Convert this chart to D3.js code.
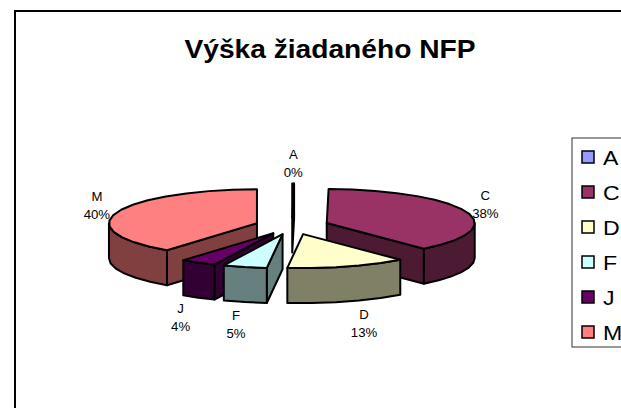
<!DOCTYPE html>
<html lang="sk">

<head>
  <meta charset="UTF-8">
  <title>Výška žiadaného NFP</title>
  <script src="https://d3js.org/d3.v7.min.js"></script>
  <style>
    html, body { margin: 0; padding: 0; background: #fff; overflow: hidden; }
    svg { display: block; font-family: "Liberation Sans", Arial, sans-serif; }
  </style>
</head>

<body>
  <script>
    const title = 'Výška žiadaného NFP';
    const categories = ['A', 'C', 'D', 'F', 'J', 'M'];
    const values = [0.2, 38.4, 13.1, 4.8, 3.9, 39.6];
    const colors = ['#9999FF', '#993366', '#FFFFCC', '#CCFFFF', '#660066', '#FF8080'];

    const w = 621;
    const h = 408;

    // pie geometry: tilted ellipse + extruded side
    const cx = 292, cy = 226;
    const rx = 148, ry = 34;
    const depth = 35;
    const explode = 0.25;

    // the original picture is stretched sideways, text included
    const stretch = 1.1;

    const color = d3.scaleOrdinal().domain(categories).range(colors);
    const legendY = d3.scalePoint().domain(categories).range([157, 332]);

    const svg = d3.select('body')
      .append('svg')
      .attr('width', w)
      .attr('height', h);

    svg.append('rect')
      .attr('width', w)
      .attr('height', h)
      .attr('fill', '#fff');

    // outer frame runs off the right and bottom edges
    svg.append('rect')
      .attr('x', 15)
      .attr('y', 11)
      .attr('width', w + 20)
      .attr('height', h + 20)
      .attr('fill', 'none')
      .attr('stroke', '#000')
      .attr('stroke-width', 2);

    svg.append('text')
      .text(title)
      .attr('x', 330)
      .attr('y', 58)
      .attr('text-anchor', 'middle')
      .attr('font-weight', 'bold')
      .attr('font-size', 25)
      .attr('textLength', 291)
      .attr('lengthAdjust', 'spacingAndGlyphs');

    const pie = d3.pie().sort(null).value((d, i) => values[i]);
    const slices = pie(categories);

    const shade = c => {
      const q = d3.rgb(c);
      return d3.rgb(q.r / 2, q.g / 2, q.b / 2).formatHex();
    };

    const line = d3.line();

    // angle is clockwise from 12 o'clock
    const centerOf = d => {
      const mid = (d.startAngle + d.endAngle) / 2;
      return [cx + Math.sin(mid) * rx * explode, cy - Math.cos(mid) * ry * explode];
    };
    const rim = (c, a, dz) => [c[0] + Math.sin(a) * rx, c[1] - Math.cos(a) * ry + dz];

    const arcPoints = (c, a0, a1, dz) => {
      const n = Math.max(1, Math.ceil((a1 - a0) / 0.17));
      return d3.range(n + 1).map(i => rim(c, a0 + (a1 - a0) * i / n, dz));
    };

    const distance = d => Math.abs((d.startAngle + d.endAngle) / 2 - Math.PI);
    const ordered = slices.slice().sort((a, b) => d3.descending(distance(a), distance(b)));

    const pieces = svg.selectAll('g.slice')
      .data(ordered)
      .enter()
      .append('g')
      .attr('class', 'slice')
      .attr('stroke', '#000')
      .attr('stroke-width', 2)
      .attr('stroke-linejoin', 'round');

    pieces.each(function (d) {
      const g = d3.select(this);
      const c = centerOf(d);
      const a0 = d.startAngle, a1 = d.endAngle;
      const fill = color(d.data);
      const wall = shade(fill);

      // radial walls facing the viewer
      [[a0, Math.sin(a0) < -1e-6], [a1, Math.sin(a1) > 1e-6]].forEach(([a, visible]) => {
        if (!visible) return;
        const p = rim(c, a, 0);
        g.append('path')
          .attr('fill', wall)
          .attr('d', line([c, p, [p[0], p[1] + depth], [c[0], c[1] + depth]]) + 'Z');
      });

      // curved wall, only the front half of the rim
      const f0 = Math.max(a0, Math.PI / 2), f1 = Math.min(a1, Math.PI * 1.5);
      if (f1 > f0) {
        const top = arcPoints(c, f0, f1, 0);
        const bottom = arcPoints(c, f0, f1, depth).reverse();
        g.append('path')
          .attr('fill', wall)
          .attr('d', line(top.concat(bottom)) + 'Z');
      }

      g.append('path')
        .attr('fill', fill)
        .attr('d', line([c].concat(arcPoints(c, a0, a1, 0))) + 'Z');
    });

    // data labels, front ones sit below the wall and further out
    const labelRy = 62;
    const labelNudge = { D: 6 };
    const labels = svg.selectAll('g.label')
      .data(slices)
      .enter()
      .append('g')
      .attr('class', 'label')
      .attr('text-anchor', 'middle')
      .attr('font-size', 12)
      .attr('transform', d => {
        const mid = (d.startAngle + d.endAngle) / 2;
        const isFront = Math.cos(mid) < 0;
        const labelRx = isFront ? 220 : 206;
        const x = cx + Math.sin(mid) * labelRx + (labelNudge[d.data] || 0);
        const y = cy - Math.cos(mid) * labelRy + (isFront ? depth + 4 : 0);
        return `translate(${x},${y}) scale(${stretch},1)`;
      });

    labels.append('text')
      .text(d => d.data)
      .attr('y', -5);

    labels.append('text')
      .text((d, i) => d3.format('.0f')(values[i]) + '%')
      .attr('y', 13);

    // legend, cut off by the window on the right
    svg.append('rect')
      .attr('x', 572)
      .attr('y', 138)
      .attr('width', 80)
      .attr('height', 209)
      .attr('fill', '#fff')
      .attr('stroke', '#333')
      .attr('stroke-width', 1);

    const legend = svg.selectAll('g.legend')
      .data(categories)
      .enter()
      .append('g')
      .attr('class', 'legend')
      .attr('transform', d => `translate(582,${legendY(d)})`);

    legend.append('rect')
      .attr('y', -6)
      .attr('width', 12)
      .attr('height', 12)
      .attr('fill', d => color(d))
      .attr('stroke', '#000')
      .attr('stroke-width', 1.5);

    legend.append('text')
      .text(d => d)
      .attr('transform', `translate(21,8) scale(${stretch},1)`)
      .attr('font-size', 21);
  </script>
</body>

</html>
